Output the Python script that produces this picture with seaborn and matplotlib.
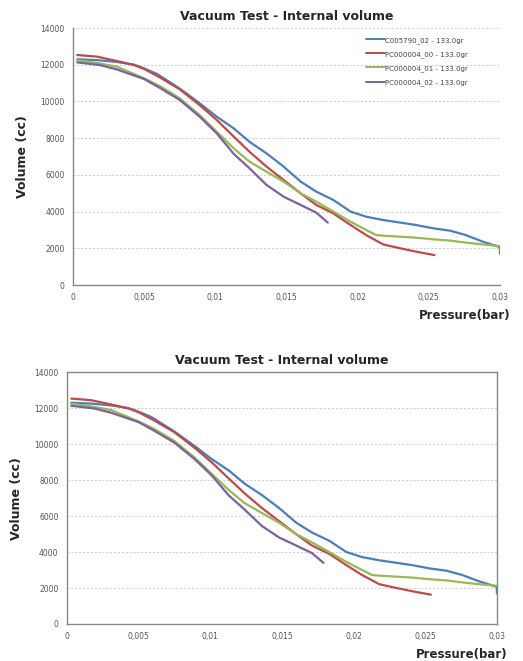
import pandas as pd
import numpy as np
import matplotlib.pyplot as plt
import seaborn as sns
from matplotlib.ticker import FuncFormatter

# Series (pressure in bar, volume in cc)
blue_p = [0.0003, 0.0017, 0.0031, 0.0043, 0.005, 0.0059, 0.0075, 0.0089, 0.0101, 0.0113,
          0.0124, 0.0136, 0.0148, 0.016, 0.0171, 0.0183, 0.0195, 0.0206, 0.0218, 0.023,
          0.0241, 0.0253, 0.0265, 0.0276, 0.0288, 0.0299, 0.03, 0.03]
blue_v = [12300, 12250, 12150, 12000, 11800, 11500, 10700, 9900, 9170, 8530,
          7800, 7170, 6450, 5630, 5085, 4630, 4000, 3720, 3540, 3400,
          3270, 3090, 2960, 2720, 2360, 2090, 2050, 1700]

red_p = [0.0003, 0.0017, 0.0031, 0.0043, 0.005, 0.0061, 0.0075, 0.0089, 0.0101, 0.0113,
         0.0124, 0.0136, 0.0148, 0.016, 0.0171, 0.0183, 0.0195, 0.0206, 0.0218, 0.023,
         0.0241, 0.0254]
red_v = [12530, 12440, 12200, 11980, 11770, 11310, 10660, 9800, 8990, 8080,
         7260, 6450, 5720, 4990, 4360, 3900, 3270, 2720, 2210, 2000,
         1820, 1630]

green_p = [0.0003, 0.0019, 0.0031, 0.005, 0.0061, 0.0075, 0.0089, 0.0101, 0.0113, 0.0124,
           0.0136, 0.0148, 0.016, 0.0171, 0.0183, 0.0195, 0.0206, 0.0213, 0.0218, 0.023,
           0.0241, 0.0253, 0.0265, 0.0276, 0.0288, 0.03]
green_v = [12250, 12070, 11890, 11260, 10840, 10170, 9260, 8350, 7440, 6720,
           6170, 5630, 4990, 4540, 4000, 3450, 3000, 2720, 2690, 2630,
           2580, 2490, 2420, 2310, 2210, 2120]

purple_p = [0.0003, 0.0019, 0.0031, 0.005, 0.0061, 0.0075, 0.0089, 0.0101, 0.0113, 0.0124,
            0.0136, 0.0148, 0.016, 0.0171, 0.0179]
purple_v = [12130, 11980, 11740, 11220, 10740, 10080, 9170, 8260, 7140, 6360,
            5450, 4810, 4360, 3940, 3400]

series_names = ["C005790_02 - 133.0gr", "PC000004_00 - 133.0gr",
                "PC000004_01 - 133.0gr", "PC000004_02 - 133.0gr"]
series_colors = ["#4a7ebb", "#be4b48", "#98b954", "#7d60a0"]

x_ticks = [0, 0.005, 0.01, 0.015, 0.02, 0.025, 0.03]
y_ticks = [0, 2000, 4000, 6000, 8000, 10000, 12000, 14000]

frames = []
for name, p, v in zip(series_names, [blue_p, red_p, green_p, purple_p],
                      [blue_v, red_v, green_v, purple_v]):
    frames.append(pd.DataFrame({"Pressure": p, "Volume": v, "Series": name}))
df = pd.concat(frames, ignore_index=True)

sns.set_style("white")
plt.rcParams['font.family'] = ['DejaVu Sans']

fig = plt.figure(figsize=(5.23, 6.61), dpi=100)
ax_top = fig.add_axes([0.1396, 0.5688, 0.8164, 0.3888])
ax_bot = fig.add_axes([0.128, 0.056, 0.822, 0.381])

comma_fmt = FuncFormatter(lambda v, pos: "0" if v == 0 else f"{v:g}".replace(".", ","))

for ax, boxed, label_y in [(ax_top, False, -0.117), (ax_bot, True, -0.123)]:
    sns.lineplot(data=df, x="Pressure", y="Volume", hue="Series", palette=series_colors,
                 hue_order=series_names, estimator=None, sort=False, linewidth=1.6,
                 legend=not boxed, ax=ax, zorder=3)
    ax.set_xlim(0, 0.03)
    ax.set_ylim(0, 14000)
    ax.set_xticks(x_ticks)
    ax.set_yticks(y_ticks)
    ax.xaxis.set_major_formatter(comma_fmt)
    ax.tick_params(axis="both", labelsize=5.5, labelcolor="#555555", length=0, pad=6)
    ax.yaxis.grid(True, linestyle=(0, (2, 2)), color="#cccccc", linewidth=0.7)
    ax.xaxis.grid(False)
    ax.set_title("Vacuum Test - Internal volume", fontsize=9, fontweight="bold", pad=6)
    ax.set_ylabel("Volume (cc)", fontsize=9, fontweight="bold", labelpad=8)
    ax.set_xlabel("Pressure(bar)", fontsize=8.5, fontweight="bold")
    ax.xaxis.label.set_horizontalalignment("right")
    ax.xaxis.label.set_verticalalignment("center")
    ax.xaxis.set_label_coords(1.025, label_y)
    for side in ["left", "bottom"]:
        ax.spines[side].set_color("#888888")
        ax.spines[side].set_linewidth(1.0)
    for side in ["top", "right"]:
        ax.spines[side].set_visible(boxed)
        ax.spines[side].set_color("#888888")
        ax.spines[side].set_linewidth(1.0)

leg = ax_top.legend(loc="upper right", bbox_to_anchor=(0.94, 0.99), frameon=False,
                    fontsize=5, handlelength=2.8, handletextpad=0.0, labelspacing=1.05,
                    labelcolor="#444444")
for line in leg.get_lines():
    line.set_linewidth(1.4)

fig.savefig("out.png", dpi=100)
